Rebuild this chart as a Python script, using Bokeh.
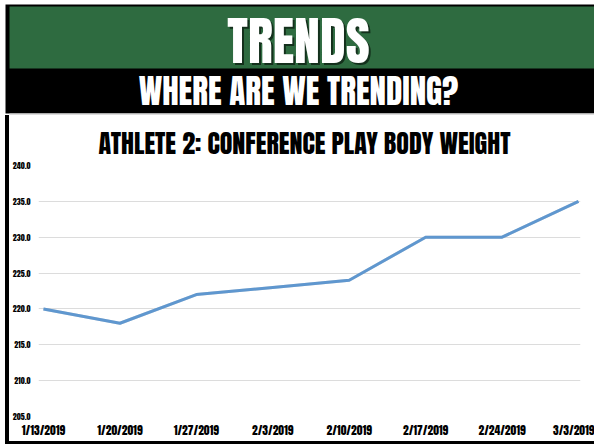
from bokeh.plotting import figure
from bokeh.models import Range1d, FixedTicker, Label, Div, ColumnDataSource
from bokeh.layouts import column, row
from bokeh.embed import file_html
from bokeh.resources import INLINE

# ---- data ----
dates = ["1/13/2019", "1/20/2019", "1/27/2019", "2/3/2019",
         "2/10/2019", "2/17/2019", "2/24/2019", "3/3/2019"]
weights = [220, 218, 222, 223, 224, 230, 230, 235]
y_ticks = [205, 210, 215, 220, 225, 230, 235, 240]
y_tick_labels = ["205.0", "210.0", "215.0", "220.0", "225.0", "230.0", "235.0", "240.0"]

main_title = "TRENDS"
sub_title = "WHERE ARE WE TRENDING?"
chart_title = "ATHLETE 2: CONFERENCE PLAY BODY WEIGHT"

FONT = "Anton"
GREEN = "#2e6b40"
LINE_BLUE = "#5f97cf"

W = 594          # full page width
TOP_H = 115      # banner block height
CHART_H = 326    # chart block height
LEFT_PAD = 5     # white strip at left
BORDER = 4       # black frame thickness on the left

# ---- banner figure ----
top = figure(width=W, height=TOP_H, x_range=Range1d(0, W), y_range=Range1d(TOP_H, 0),
             toolbar_location=None, output_backend="svg", min_border=0,
             x_axis_location=None, y_axis_location=None)
top.outline_line_color = None
top.background_fill_color = "white"
top.border_fill_color = "white"
top.grid.visible = False
top.quad(left=LEFT_PAD, right=W, top=4, bottom=113, fill_color="black", line_color=None)
top.quad(left=LEFT_PAD + BORDER, right=W, top=6, bottom=68, fill_color=GREEN, line_color=None)
top.quad(left=LEFT_PAD + BORDER, right=W, top=113, bottom=TOP_H, fill_color="#dcdcdc", line_color=None)

# main banner title with a dark drop shadow
top.add_layout(Label(x=298 + 2, y=40 + 2, text=main_title, text_font=FONT,
                     text_font_size="52px", text_color="#14301c", text_align="center",
                     text_baseline="middle"))
top.add_layout(Label(x=298, y=40, text=main_title, text_font=FONT,
                     text_font_size="52px", text_color="white", text_align="center",
                     text_baseline="middle"))
top.add_layout(Label(x=298, y=90, text=sub_title, text_font=FONT,
                     text_font_size="33px", text_color="white", text_align="center",
                     text_baseline="middle"))

# ---- chart figure ----
CW = W - LEFT_PAD - BORDER
src = ColumnDataSource(dict(x=list(range(len(dates))), y=weights))
p = figure(width=CW, height=CHART_H, x_range=Range1d(-0.065, len(dates) - 1 + 0.026),
           y_range=Range1d(205, 240), toolbar_location=None, output_backend="svg",
           min_border_left=26, min_border_right=14, min_border_top=50, min_border_bottom=24,
           title=chart_title)
p.title.align = "left"
p.title.offset = 60
p.title.text_font = FONT
p.title.text_font_style = "normal"
p.title.text_font_size = "26px"
p.title.text_color = "black"
p.title.standoff = 6
p.outline_line_color = None
p.background_fill_color = "white"
p.border_fill_color = "white"

p.xaxis.ticker = FixedTicker(ticks=list(range(len(dates))))
p.xaxis.major_label_overrides = {i: d for i, d in enumerate(dates)}
p.yaxis.ticker = FixedTicker(ticks=y_ticks)
p.yaxis.major_label_overrides = {t: l for t, l in zip(y_ticks, y_tick_labels)}
for ax in (p.xaxis, p.yaxis):
    ax.axis_line_color = None
    ax.major_tick_line_color = None
    ax.minor_tick_line_color = None
    ax.major_label_text_font = FONT
    ax.major_label_text_font_style = "normal"
    ax.major_label_text_color = "black"
p.xaxis.major_label_text_font_size = "11.5px"
p.xaxis.major_label_standoff = -2
p.yaxis.major_label_text_font_size = "8px"
p.yaxis.major_label_standoff = 2
p.xgrid.visible = False
p.ygrid.grid_line_color = "#dcdcdc"
p.ygrid.grid_line_width = 1

p.line("x", "y", source=src, line_color="#8a8f96", line_width=3, line_alpha=0.3)
p.line("x", "y", source=src, line_color=LINE_BLUE, line_width=3)

pad_left = Div(width=LEFT_PAD, height=CHART_H, margin=0, styles={"background-color": "white"})
left_border = Div(width=BORDER, height=CHART_H, margin=0, styles={"background-color": "black"})
pad_bottom = Div(width=LEFT_PAD, height=3, margin=0, styles={"background-color": "white"})
bottom_border = Div(width=W - LEFT_PAD, height=3, margin=0, styles={"background-color": "black"})

layout = column(top, row(pad_left, left_border, p, spacing=0),
                row(pad_bottom, bottom_border, spacing=0), spacing=0)

open("out.html", "w").write(file_html(layout, INLINE))
